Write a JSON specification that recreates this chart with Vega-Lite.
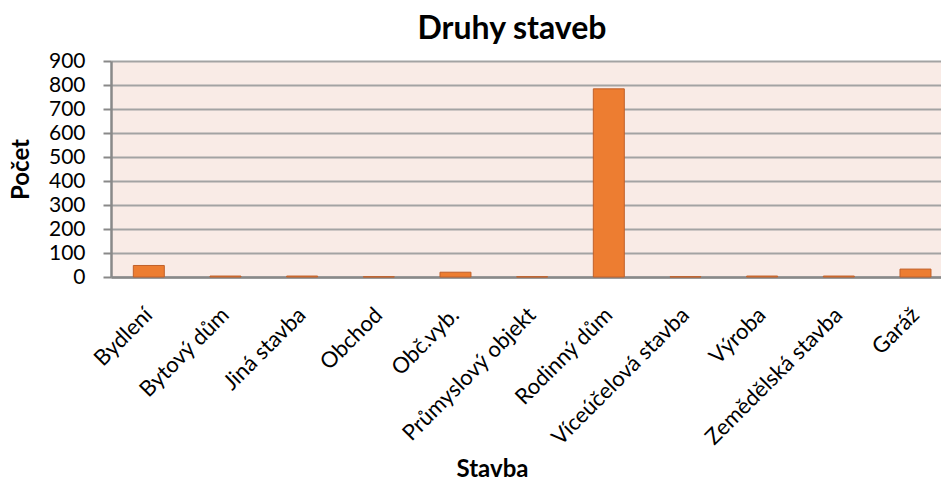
{
  "$schema": "https://vega.github.io/schema/vega-lite/v6.json",
  "autosize": "none",
  "width": 830,
  "height": 216,
  "padding": {"left": 111, "top": 61, "right": 0, "bottom": 203},
  "background": "white",
  "title": {
    "text": "Druhy staveb",
    "font": "Lato",
    "fontSize": 32,
    "fontWeight": "bold",
    "color": "#000000",
    "offset": 4,
    "dx": -14,
    "anchor": "middle"
  },
  "config": {
    "view": {"fill": "#f9ebe6", "stroke": null},
    "font": "Lato"
  },
  "data": {
    "values": [
      {"stavba": "Bydlení", "pocet": 48},
      {"stavba": "Bytový dům", "pocet": 4},
      {"stavba": "Jiná stavba", "pocet": 4},
      {"stavba": "Obchod", "pocet": 1},
      {"stavba": "Obč.vyb.", "pocet": 20},
      {"stavba": "Průmyslový objekt", "pocet": 1},
      {"stavba": "Rodinný dům", "pocet": 784},
      {"stavba": "Víceúčelová stavba", "pocet": 1},
      {"stavba": "Výroba", "pocet": 4},
      {"stavba": "Zemědělská stavba", "pocet": 4},
      {"stavba": "Garáž", "pocet": 33}
    ]
  },
  "mark": {"type": "bar", "color": "#ed7d31", "stroke": "#c0602a", "strokeWidth": 1},
  "encoding": {
    "x": {
      "field": "stavba",
      "type": "nominal",
      "sort": null,
      "scale": {"paddingInner": 0.596, "paddingOuter": 0.211, "align": 0.69},
      "axis": {
        "title": "Stavba",
        "titleFont": "Lato",
        "titleFontSize": 24,
        "titleFontWeight": "bold",
        "titleColor": "#000000",
        "titleX": 381,
        "titleY": 199,
        "titleAlign": "center",
        "titleBaseline": "alphabetic",
        "labelAngle": -45,
        "labelAlign": "right",
        "labelBaseline": "middle",
        "labelFont": "Lato",
        "labelFontSize": 22,
        "labelColor": "#000000",
        "labelPadding": 34,
        "labelLimit": 0,
        "labelOverlap": false,
        "ticks": false,
        "domainColor": "#898989",
        "domainWidth": 2.5
      }
    },
    "y": {
      "field": "pocet",
      "type": "quantitative",
      "scale": {"domain": [0, 900], "nice": false},
      "axis": {
        "title": "Počet",
        "titleFont": "Lato",
        "titleFontSize": 24,
        "titleFontWeight": "bold",
        "titleColor": "#000000",
        "titleX": -90,
        "titleY": 108,
        "titleAlign": "center",
        "titleBaseline": "middle",
        "values": [0, 100, 200, 300, 400, 500, 600, 700, 800, 900],
        "labelFont": "Lato",
        "labelFontSize": 21,
        "labelColor": "#000000",
        "labelPadding": 18,
        "tickSize": 8,
        "tickColor": "#898989",
        "tickWidth": 2,
        "domainColor": "#898989",
        "domainWidth": 2.5,
        "gridColor": "#a3a3a3",
        "gridWidth": 2
      }
    }
  }
}
